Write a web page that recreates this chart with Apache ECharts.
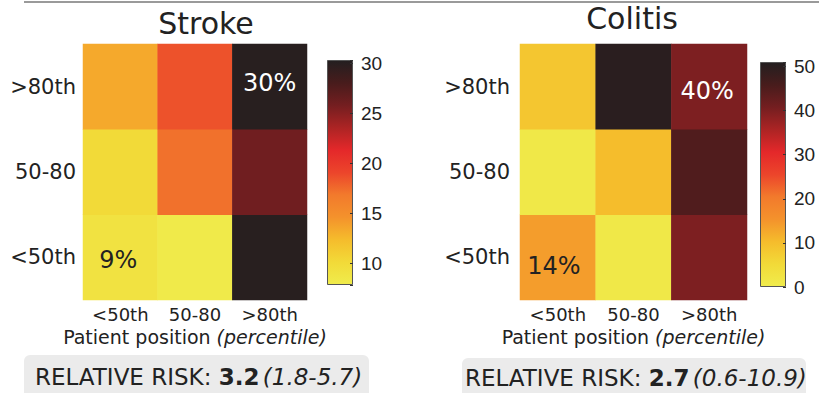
<!DOCTYPE html>
<html><head><meta charset="utf-8">
<script src="https://cdn.jsdelivr.net/npm/echarts@6/dist/echarts.min.js"></script>
<style>html,body{margin:0;padding:0;background:#fff}#c{width:819px;height:393px}</style>
</head><body><div id="c"></div>
<script>
// ---- data ----
const rowCats = ['<50th', '50-80', '>80th'];          // y axis, bottom to top
const colCats = ['<50th', '50-80', '>80th'];          // x axis, left to right
const strokeValues = [                                 // rows bottom->top, cols left->right
  [9, 8, 30],
  [10, 17.2, 26],
  [13.3, 18.5, 30]
];
const colitisValues = [
  [14, 1, 40],
  [1, 10, 45],
  [8.5, 50, 40]
];
const strokeScale = [7.8, 30.3];
const colitisScale = [0, 51];
const strokeLabelled = [[0, 0], [2, 2]];   // [col,row] cells with % label
const colitisLabelled = [[0, 0], [2, 2]];
const titles = ['Stroke', 'Colitis'];
const xAxisTitle = ['Patient position ', '(percentile)'];
const riskStroke = ['3.2', '(1.8-5.7)'];
const riskColitis = ['2.7', '(0.6-10.9)'];
const palette = ['#f0ec4c', '#f2da38', '#f5bc2c', '#f4922c', '#f27a2c', '#ec452b',
                 '#e4282a', '#ac2424', '#741e20', '#481c1c', '#231f20'];

const FONT = 'DejaVu Sans';
const TXT = '#222';

function cells(values, labelled, offsets) {
  const out = [];
  values.forEach((row, r) => row.forEach((v, c) => {
    const item = { value: [c, r, v] };
    const k = labelled.findIndex(p => p[0] === c && p[1] === r);
    if (k >= 0) {
      item.label = { show: true, formatter: p => Math.round(p.value[2]) + '%', offset: offsets[k],
        color: v > 20 ? '#fff' : TXT, fontSize: 24, fontFamily: FONT };
    }
    out.push(item);
  }));
  return out;
}

const grad = {
  type: 'linear', x: 0, y: 1, x2: 0, y2: 0,
  colorStops: palette.map((c, i) => ({ offset: i / (palette.length - 1), color: c }))
};

function heatX(idx) {
  return { type: 'category', gridIndex: idx, data: colCats,
    axisLine: { show: false }, axisTick: { show: false }, splitArea: { show: false },
    axisLabel: { fontSize: 18, color: TXT, fontFamily: FONT, margin: 5 },
    name: '{n|' + xAxisTitle[0] + '}{i|' + xAxisTitle[1] + '}', nameLocation: 'middle', nameGap: 26,
    nameTextStyle: { rich: { n: { fontSize: 19, color: TXT, fontFamily: FONT },
                             i: { fontSize: 19, color: TXT, fontFamily: FONT, fontStyle: 'italic' } } } };
}
function heatY(idx, margin) {
  return { type: 'category', gridIndex: idx, data: rowCats,
    axisLine: { show: false }, axisTick: { show: false },
    axisLabel: { fontSize: 21, color: TXT, fontFamily: FONT, margin: margin } };
}
function barX(idx) {
  return { type: 'category', gridIndex: idx, data: ['c'], show: false };
}
function barY(idx, scale) {
  return { type: 'value', gridIndex: idx, min: scale[0], max: scale[1], position: 'right', z: 5,
    splitNumber: 5, axisLine: { show: false }, splitLine: { show: false },
    axisTick: { show: true, inside: true, length: 3, lineStyle: { color: '#333' } },
    axisLabel: { fontSize: 19, color: TXT, fontFamily: 'Liberation Sans', margin: 8,
                 formatter: v => (Math.abs(v / 5 - Math.round(v / 5)) < 1e-6 ? String(Math.round(v)) : '') } };
}
function barSeries(idx, scale) {
  return [
    { type: 'bar', xAxisIndex: idx, yAxisIndex: idx, stack: 'cb' + idx, barWidth: '100%', silent: true,
      data: [scale[0]], itemStyle: { color: 'rgba(0,0,0,0)' } },
    { type: 'bar', xAxisIndex: idx, yAxisIndex: idx, stack: 'cb' + idx, barWidth: '100%', silent: true,
      data: [scale[1] - scale[0]], itemStyle: { color: grad, borderColor: '#555', borderWidth: 1 } }
  ];
}
function riskText(vals) {
  return '{n|RELATIVE RISK: }{b|' + vals[0] + '} {i|' + vals[1] + '}';
}
const riskRich = {
  n: { fontSize: 23, fontFamily: FONT, fill: TXT },
  b: { fontSize: 23, fontFamily: FONT, fontWeight: 'bold', fill: TXT },
  i: { fontSize: 23, fontFamily: FONT, fontStyle: 'italic', fill: TXT }
};

const chart = echarts.init(document.getElementById('c'), null, { renderer: 'svg' });
chart.setOption({
  animation: false,
  backgroundColor: '#fff',
  grid: [
    { left: 83, top: 44, width: 224, height: 256 },
    { left: 520, top: 44, width: 227, height: 256 },
    { left: 327, top: 60, width: 26, height: 225 },
    { left: 760, top: 62, width: 26, height: 225 }
  ],
  xAxis: [heatX(0), heatX(1), barX(2), barX(3)],
  yAxis: [heatY(0, 7), heatY(1, 10), barY(2, strokeScale), barY(3, colitisScale)],
  visualMap: [
    { show: false, seriesIndex: 0, dimension: 2, min: strokeScale[0], max: strokeScale[1], inRange: { color: palette } },
    { show: false, seriesIndex: 1, dimension: 2, min: colitisScale[0], max: colitisScale[1], inRange: { color: palette } }
  ],
  series: [
    { type: 'heatmap', xAxisIndex: 0, yAxisIndex: 0, data: cells(strokeValues, strokeLabelled, [[-2, 3], [0, -4]]), itemStyle: { borderWidth: 0 } },
    { type: 'heatmap', xAxisIndex: 1, yAxisIndex: 1, data: cells(colitisValues, colitisLabelled, [[-4, 9], [-2, 4]]), itemStyle: { borderWidth: 0 } }
  ].concat(barSeries(2, strokeScale), barSeries(3, colitisScale)),
  graphic: [
    { type: 'line', shape: { x1: 24, y1: 2, x2: 819, y2: 2 }, style: { stroke: '#9a9a9a', lineWidth: 2 } },
    { type: 'text', x: 206, y: 23, style: { text: titles[0], fontSize: 30, fontFamily: FONT, fill: TXT, textAlign: 'center', textVerticalAlign: 'middle' } },
    { type: 'text', x: 632, y: 18, style: { text: titles[1], fontSize: 30, fontFamily: FONT, fill: TXT, textAlign: 'center', textVerticalAlign: 'middle' } },
    { type: 'rect', shape: { x: 24, y: 355, width: 345, height: 50, r: 6 }, style: { fill: '#ebebeb' } },
    { type: 'rect', shape: { x: 462, y: 358, width: 344, height: 50, r: 6 }, style: { fill: '#ebebeb' } },
    { type: 'text', x: 35, y: 377, style: { text: riskText(riskStroke), rich: riskRich, textVerticalAlign: 'middle' } },
    { type: 'text', x: 465, y: 378, style: { text: riskText(riskColitis), rich: riskRich, textVerticalAlign: 'middle' } }
  ]
});
</script></body></html>
